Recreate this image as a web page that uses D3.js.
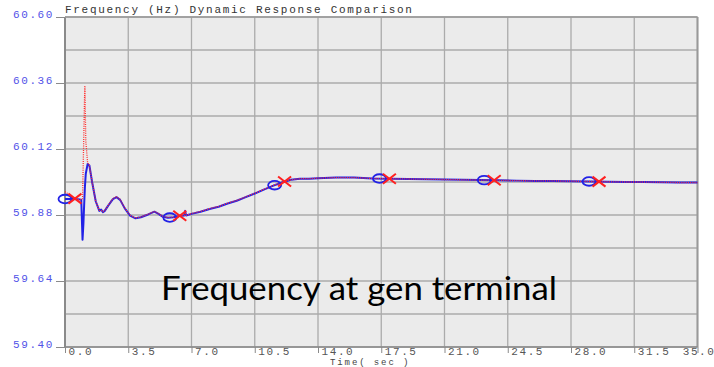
<!DOCTYPE html>
<html>
<head>
<meta charset="utf-8">
<script src="https://cdn.jsdelivr.net/npm/d3@7"></script>
<style>
  html, body { margin: 0; padding: 0; background: #ffffff; }
  svg { display: block; }
  .mono { font-family: "Liberation Mono", "DejaVu Sans Mono", monospace; }
</style>
</head>
<body>
<svg id="chart" width="714" height="367"></svg>
<script>
// Simulation time stamps (s)
const time = [0, 0.2, 0.5, 0.85, 0.9, 0.97, 1.02, 1.08, 1.1, 1.15, 1.25, 1.35, 1.5, 1.7, 1.9, 2.0, 2.1, 2.2, 2.4,
  2.65, 2.85, 3.05, 3.3, 3.6, 3.9, 4.2, 4.6, 4.95, 5.15, 5.4, 5.7, 6.0, 6.3, 6.6, 6.65, 6.7, 7.0, 7.5,
  8.0, 8.5, 9.0, 9.5, 10.0, 10.5, 11.0, 11.5, 12.0, 12.5, 13.0, 13.5, 14.0, 15.0, 16.0, 17.0, 18.0,
  19.0, 20.0, 21.0, 22.0, 23.0, 24.0, 25.0, 26.0, 27.0, 28.0, 29.0, 30.0, 31.0, 32.0, 33.0, 34.0, 35.0];

// Frequency, case 1 (blue, solid)
const freqCase1 = [59.938, 59.938, 59.938, 59.936, 59.935, 59.79, 59.85, 59.95, 59.98, 60.03, 60.065, 60.06, 60.0,
  59.93, 59.895, 59.90, 59.89, 59.895, 59.915, 59.938, 59.945, 59.935, 59.905, 59.878, 59.868, 59.872,
  59.882, 59.892, 59.885, 59.874, 59.870, 59.872, 59.876, 59.878, 59.895, 59.878, 59.884, 59.892,
  59.902, 59.910, 59.922, 59.932, 59.945, 59.958, 59.972, 59.986, 59.998, 60.008, 60.012, 60.012,
  60.014, 60.016, 60.016, 60.013, 60.012, 60.011, 60.010, 60.009, 60.008, 60.007, 60.006, 60.005,
  60.004, 60.004, 60.003, 60.002, 60.001, 60.000, 60.000, 59.999, 59.998, 59.998];

// Frequency, case 2 (red, dotted)
const freqCase2 = [59.965, 59.955, 59.940, 59.936, 59.935, 59.94, 60.10, 60.30, 60.35, 60.15, 60.07, 60.06, 60.0,
  59.93, 59.897, 59.898, 59.892, 59.897, 59.916, 59.940, 59.946, 59.937, 59.906, 59.879, 59.869, 59.873,
  59.883, 59.893, 59.886, 59.875, 59.871, 59.873, 59.877, 59.879, 59.890, 59.879, 59.885, 59.893,
  59.903, 59.911, 59.923, 59.933, 59.946, 59.959, 59.973, 59.987, 59.999, 60.008, 60.012, 60.012,
  60.014, 60.016, 60.016, 60.013, 60.012, 60.011, 60.010, 60.009, 60.008, 60.007, 60.006, 60.005,
  60.004, 60.004, 60.003, 60.002, 60.001, 60.000, 60.000, 59.999, 59.998, 59.998];

// Marker times for each case
const markerTimesCase1 = [0, 5.8, 11.6, 17.4, 23.2, 29.0];
const markerTimesCase2 = [0.55, 6.35, 12.15, 17.95, 23.75, 29.55];

// Axis ticks
const xTicks = [0, 3.5, 7, 10.5, 14, 17.5, 21, 24.5, 28, 31.5, 35];
const yLabelTicks = [59.40, 59.64, 59.88, 60.12, 60.36, 60.60];
const yGridTicks = [59.40, 59.52, 59.64, 59.76, 59.88, 60.00, 60.12, 60.24, 60.36, 60.48, 60.60];

const titleText = "Frequency (Hz) Dynamic Response Comparison";
const xAxisTitle = "Time( sec )";
const captionText = "Frequency at gen terminal";

const svg = d3.select("#chart");
const W = 714;
const plot = { left: 65, right: 697.5, top: 17, bottom: 347 };
const monoSize = "11px", monoSpacing = "1.6px";

const x = d3.scaleLinear().domain([0, 35]).range([plot.left, plot.right]);
const y = d3.scaleLinear().domain([59.40, 60.60]).range([plot.bottom, plot.top]);

// Plot background
svg.append("rect")
  .attr("x", plot.left).attr("y", plot.top)
  .attr("width", plot.right - plot.left).attr("height", plot.bottom - plot.top)
  .attr("fill", "#ebebeb");

// Grid lines
const grid = svg.append("g");
grid.selectAll("line.h").data(yGridTicks).join("line")
  .attr("x1", plot.left).attr("x2", plot.right)
  .attr("y1", d => y(d)).attr("y2", d => y(d))
  .attr("stroke", "#ababab").attr("stroke-width", 1.3);
grid.selectAll("line.v").data(xTicks).join("line")
  .attr("x1", d => x(d)).attr("x2", d => x(d))
  .attr("y1", plot.top).attr("y2", plot.bottom)
  .attr("stroke", "#ababab").attr("stroke-width", 1.3);

// Frame
svg.append("line").attr("x1", plot.left).attr("x2", plot.left)
  .attr("y1", plot.top).attr("y2", plot.bottom + 1)
  .attr("stroke", "#8a8a8a").attr("stroke-width", 2);
svg.append("line").attr("x1", plot.right).attr("x2", plot.right)
  .attr("y1", plot.top).attr("y2", plot.bottom)
  .attr("stroke", "#999").attr("stroke-width", 2);
svg.append("line").attr("x1", plot.left).attr("x2", plot.right)
  .attr("y1", plot.bottom).attr("y2", plot.bottom)
  .attr("stroke", "#8a8a8a").attr("stroke-width", 1.5);
svg.append("line").attr("x1", plot.left).attr("x2", plot.right)
  .attr("y1", plot.top).attr("y2", plot.top)
  .attr("stroke", "#999").attr("stroke-width", 1.5);

// Y axis: labels sit on their grid line with a short tick
const yAxis = d3.axisLeft(y).tickValues(yLabelTicks).tickSize(9).tickPadding(2)
  .tickFormat(d3.format(".2f"));
const yg = svg.append("g").attr("transform", `translate(${plot.left},0)`).call(yAxis);
yg.select(".domain").remove();
yg.selectAll(".tick line").attr("stroke", "#8a8a8a").attr("stroke-width", 1);
yg.selectAll(".tick text")
  .attr("class", "mono")
  .attr("dy", "0")
  .attr("fill", "#5252e8")
  .style("font-size", monoSize)
  .style("letter-spacing", monoSpacing);

// X axis: labels start just right of each tick; the last one is kept inside the page
const xAxis = d3.axisBottom(x).tickValues(xTicks).tickSize(6).tickFormat(d3.format(".1f"));
const xg = svg.append("g").attr("transform", `translate(0,${plot.bottom})`).call(xAxis);
xg.select(".domain").remove();
xg.selectAll(".tick line").attr("stroke", "#8a8a8a").attr("stroke-width", 1);
xg.selectAll(".tick text")
  .attr("class", "mono")
  .attr("text-anchor", (d, i) => i === xTicks.length - 1 ? "end" : "start")
  .attr("x", (d, i) => i === xTicks.length - 1 ? W - x(d) + 1 : 3)
  .attr("y", 8).attr("dy", "0")
  .attr("fill", "#555")
  .style("font-size", monoSize)
  .style("letter-spacing", monoSpacing);

// Titles
svg.append("text").attr("class", "mono")
  .attr("x", plot.left).attr("y", 13)
  .attr("fill", "#333").style("font-size", monoSize).style("letter-spacing", "1.7px")
  .text(titleText);
svg.append("text").attr("class", "mono")
  .attr("x", 330).attr("y", 364.5)
  .attr("fill", "#444").style("font-size", "9px").style("letter-spacing", "1.9px")
  .text(xAxisTitle);

// Series
const pts1 = time.map((t, i) => [t, freqCase1[i]]);
const pts2 = time.map((t, i) => [t, freqCase2[i]]);
const line = d3.line().x(d => x(d[0])).y(d => y(d[1]));

svg.append("path").datum(pts1)
  .attr("d", line).attr("fill", "none")
  .attr("stroke", "#2222e6").attr("stroke-width", 2).attr("stroke-linejoin", "round");
svg.append("path").datum(pts2)
  .attr("d", line).attr("fill", "none")
  .attr("stroke", "#ff3030").attr("stroke-width", 1.3).attr("stroke-dasharray", "1,1.2");

// Markers placed on each curve
function valueAt(series, t) {
  const i = d3.bisector(d => d[0]).right(series, t);
  if (i <= 0) return series[0][1];
  if (i >= series.length) return series[series.length - 1][1];
  const a = series[i - 1], b = series[i];
  return a[1] + (b[1] - a[1]) * (t - a[0]) / (b[0] - a[0]);
}

svg.append("g").selectAll("ellipse").data(markerTimesCase1).join("ellipse")
  .attr("cx", d => x(d)).attr("cy", d => y(valueAt(pts1, d)))
  .attr("rx", 6.5).attr("ry", 4.3)
  .attr("fill", "none").attr("stroke", "#2222e6").attr("stroke-width", 1.8);

const xMark = svg.append("g").selectAll("g").data(markerTimesCase2).join("g")
  .attr("transform", d => `translate(${x(d)},${y(valueAt(pts2, d))})`);
xMark.append("line").attr("x1", -6.5).attr("y1", -5).attr("x2", 6.5).attr("y2", 5)
  .attr("stroke", "#ff2020").attr("stroke-width", 2);
xMark.append("line").attr("x1", -6.5).attr("y1", 5).attr("x2", 6.5).attr("y2", -5)
  .attr("stroke", "#ff2020").attr("stroke-width", 2);

// Caption over the plot
svg.append("text")
  .attr("x", 161).attr("y", 300)
  .attr("fill", "#000")
  .style("font-family", "Lato, 'Open Sans', sans-serif")
  .style("font-size", "32px")
  .attr("textLength", 396).attr("lengthAdjust", "spacingAndGlyphs")
  .text(captionText);
</script>
</body>
</html>
